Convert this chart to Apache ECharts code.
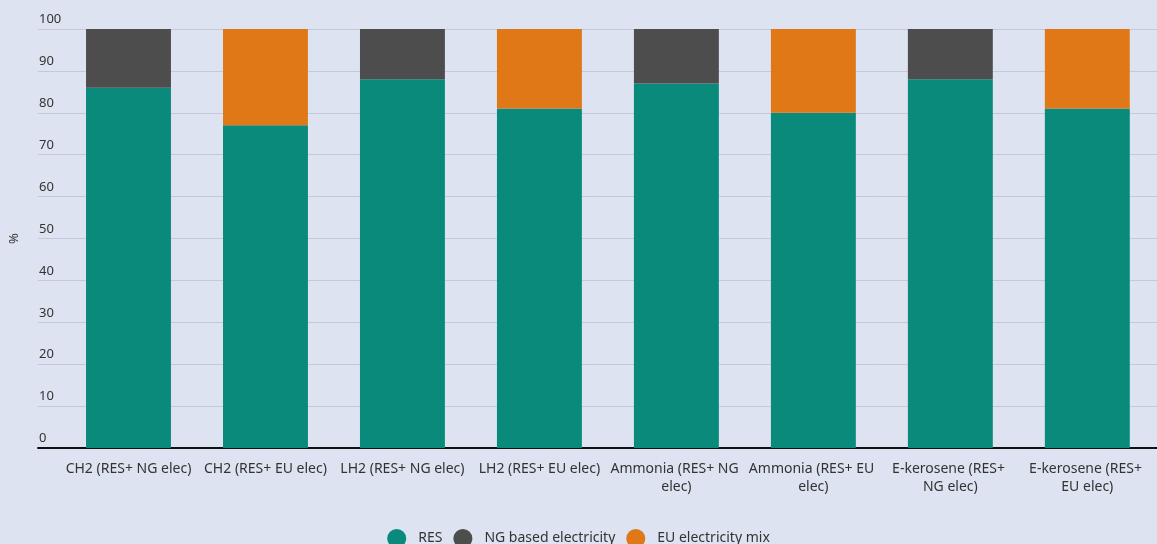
<!DOCTYPE html>
<html>
<head>
<meta charset="utf-8">
<script src="https://cdn.jsdelivr.net/npm/echarts@6/dist/echarts.min.js"></script>
<style>
html,body{margin:0;padding:0;background:#dde3f0;}
#c{width:1157px;height:544px;}
</style>
</head>
<body>
<div id="c"></div>
<script>
const categories = ["CH2 (RES+ NG elec)", "CH2 (RES+ EU elec)", "LH2 (RES+ NG elec)", "LH2 (RES+ EU elec)", "Ammonia (RES+ NG elec)", "Ammonia (RES+ EU elec)", "E-kerosene (RES+ NG elec)", "E-kerosene (RES+ EU elec)"];
const resValues = [86, 77, 88, 81, 87, 80, 88, 81];
const ngValues = [14, null, 12, null, 13, null, 12, null];
const euValues = [null, 23, null, 19, null, 20, null, 19];
const yTicks = [0, 10, 20, 30, 40, 50, 60, 70, 80, 90, 100];

const font = "Noto Sans";
const chart = echarts.init(document.getElementById('c'));
chart.setOption({
  backgroundColor: '#dde3f0',
  textStyle: {fontFamily: font},
  animation: false,
  legend: {
    bottom: -9, left: 'center', itemWidth: 19, itemHeight: 19, icon: 'circle', itemGap: 11,
    textStyle: {fontFamily: font, fontSize: 14, color: '#333', padding: [0, 0, 0, 7]},
    data: ['RES', 'NG based electricity', 'EU electricity mix']
  },
  grid: [
    {left: 60, right: -4, top: 29, bottom: 96},
    {left: 33, right: 0, top: 29, bottom: 96}
  ],
  xAxis: [
    {type: 'category', gridIndex: 0, data: categories,
     axisLine: {show: false}, axisTick: {show: false},
     axisLabel: {interval: 0, color: '#333', fontFamily: font, fontSize: 14, width: 134, overflow: 'break', margin: 12, lineHeight: 18}},
    {type: 'value', gridIndex: 1, min: 0, max: 1, show: true,
     axisLine: {show: true, lineStyle: {color: '#111', width: 2}}, axisTick: {show: false}, axisLabel: {show: false}, splitLine: {show: false}}
  ],
  yAxis: [
    {type: 'value', gridIndex: 0, min: 0, max: 100, interval: 10, axisLabel: {show: false}, splitLine: {show: false}, axisLine: {show: false}, axisTick: {show: false}},
    {type: 'value', gridIndex: 1, min: yTicks[0], max: yTicks[yTicks.length - 1], interval: 10,
     name: '%', nameLocation: 'middle', nameGap: 17, nameRotate: 90,
     nameTextStyle: {color: '#333', fontFamily: font, fontSize: 13},
     axisLine: {show: false}, axisTick: {show: false},
     axisLabel: {inside: true, align: 'left', verticalAlign: 'bottom', margin: 1, padding: [0, 0, 3, 0], color: '#333', fontFamily: font, fontSize: 13},
     splitLine: {show: true, lineStyle: {color: '#c3c9d9', width: 1}}}
  ],
  series: [
    {name: 'RES', type: 'bar', stack: 's', xAxisIndex: 0, yAxisIndex: 0, data: resValues, barWidth: '62%', itemStyle: {color: '#0a8a7a'}},
    {name: 'NG based electricity', type: 'bar', stack: 's', xAxisIndex: 0, yAxisIndex: 0, data: ngValues, itemStyle: {color: '#4d4d4d'}},
    {name: 'EU electricity mix', type: 'bar', stack: 's', xAxisIndex: 0, yAxisIndex: 0, data: euValues, itemStyle: {color: '#e07818'}}
  ]
});
</script>
</body>
</html>
